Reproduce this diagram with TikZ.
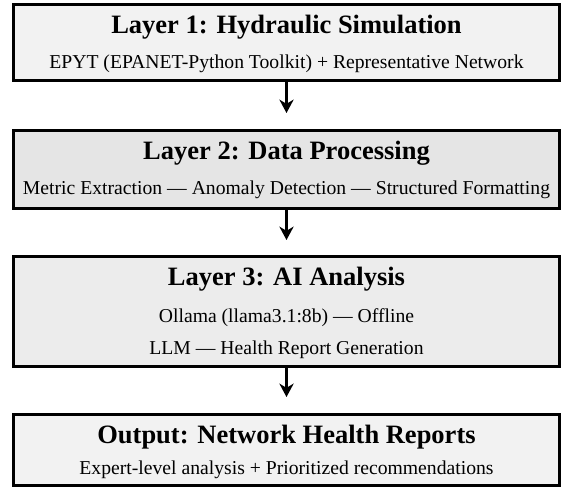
\documentclass[tikz,border=0pt]{standalone}
\usepackage{fontspec}
\setmainfont{Liberation Serif}
\usetikzlibrary{arrows.meta}
\begin{document}
\begin{tikzpicture}[x=0.6pt,y=-0.6pt,
  layerbox/.style={draw=black, line width=1.8pt, minimum width=327.6pt, inner sep=0pt, outer sep=0pt},
  ttl/.style={anchor=base, inner sep=0pt, font=\fontsize{15.9pt}{19pt}\selectfont\bfseries},
  sub/.style={anchor=base, inner sep=0pt, font=\fontsize{11.8pt}{14pt}\selectfont},
  flow/.style={line width=1.6pt, -{Stealth[length=8pt, width=8.5pt, inset=2.5pt]}}]
\useasboundingbox (0,0) rectangle (564,489);
% boxes
\node[layerbox, fill=gray!10, minimum height=45.6pt] (L1) at (286.5,42.5) {};
\node[layerbox, fill=gray!20, minimum height=46.8pt] (L2) at (286.5,169.5) {};
\node[layerbox, fill=gray!15, minimum height=66pt] (L3) at (286.5,311.5) {};
\node[layerbox, fill=gray!10, minimum height=42.6pt] (L4) at (286.5,450) {};
% texts
\node[ttl] (L1t) at (286.5,33) {Layer 1: Hydraulic Simulation};
\node[sub] (L1s) at (286.5,68) {EPYT (EPANET-Python Toolkit) + Representative Network};
\node[ttl] (L2t) at (286.5,159) {Layer 2: Data Processing};
\node[sub] (L2s) at (286.5,194.5) {Metric Extraction — Anomaly Detection — Structured Formatting};
\node[ttl] (L3t) at (286.5,285) {Layer 3: AI Analysis};
\node[sub] (L3a) at (286.5,322.5) {Ollama (llama3.1:8b) — Offline};
\node[sub] (L3b) at (286.5,354.5) {LLM — Health Report Generation};
\node[ttl] (L4t) at (286.5,443) {Output: Network Health Reports};
\node[sub] (L4s) at (286.5,474) {Expert-level analysis + Prioritized recommendations};
% arrows
\coordinate (a1) at (286.5,113);
\coordinate (a2) at (286.5,240);
\coordinate (a3) at (286.5,397);
\draw[flow] (L1.south) -- (a1);
\draw[flow] (L2.south) -- (a2);
\draw[flow] (L3.south) -- (a3);
\end{tikzpicture}
\end{document}
